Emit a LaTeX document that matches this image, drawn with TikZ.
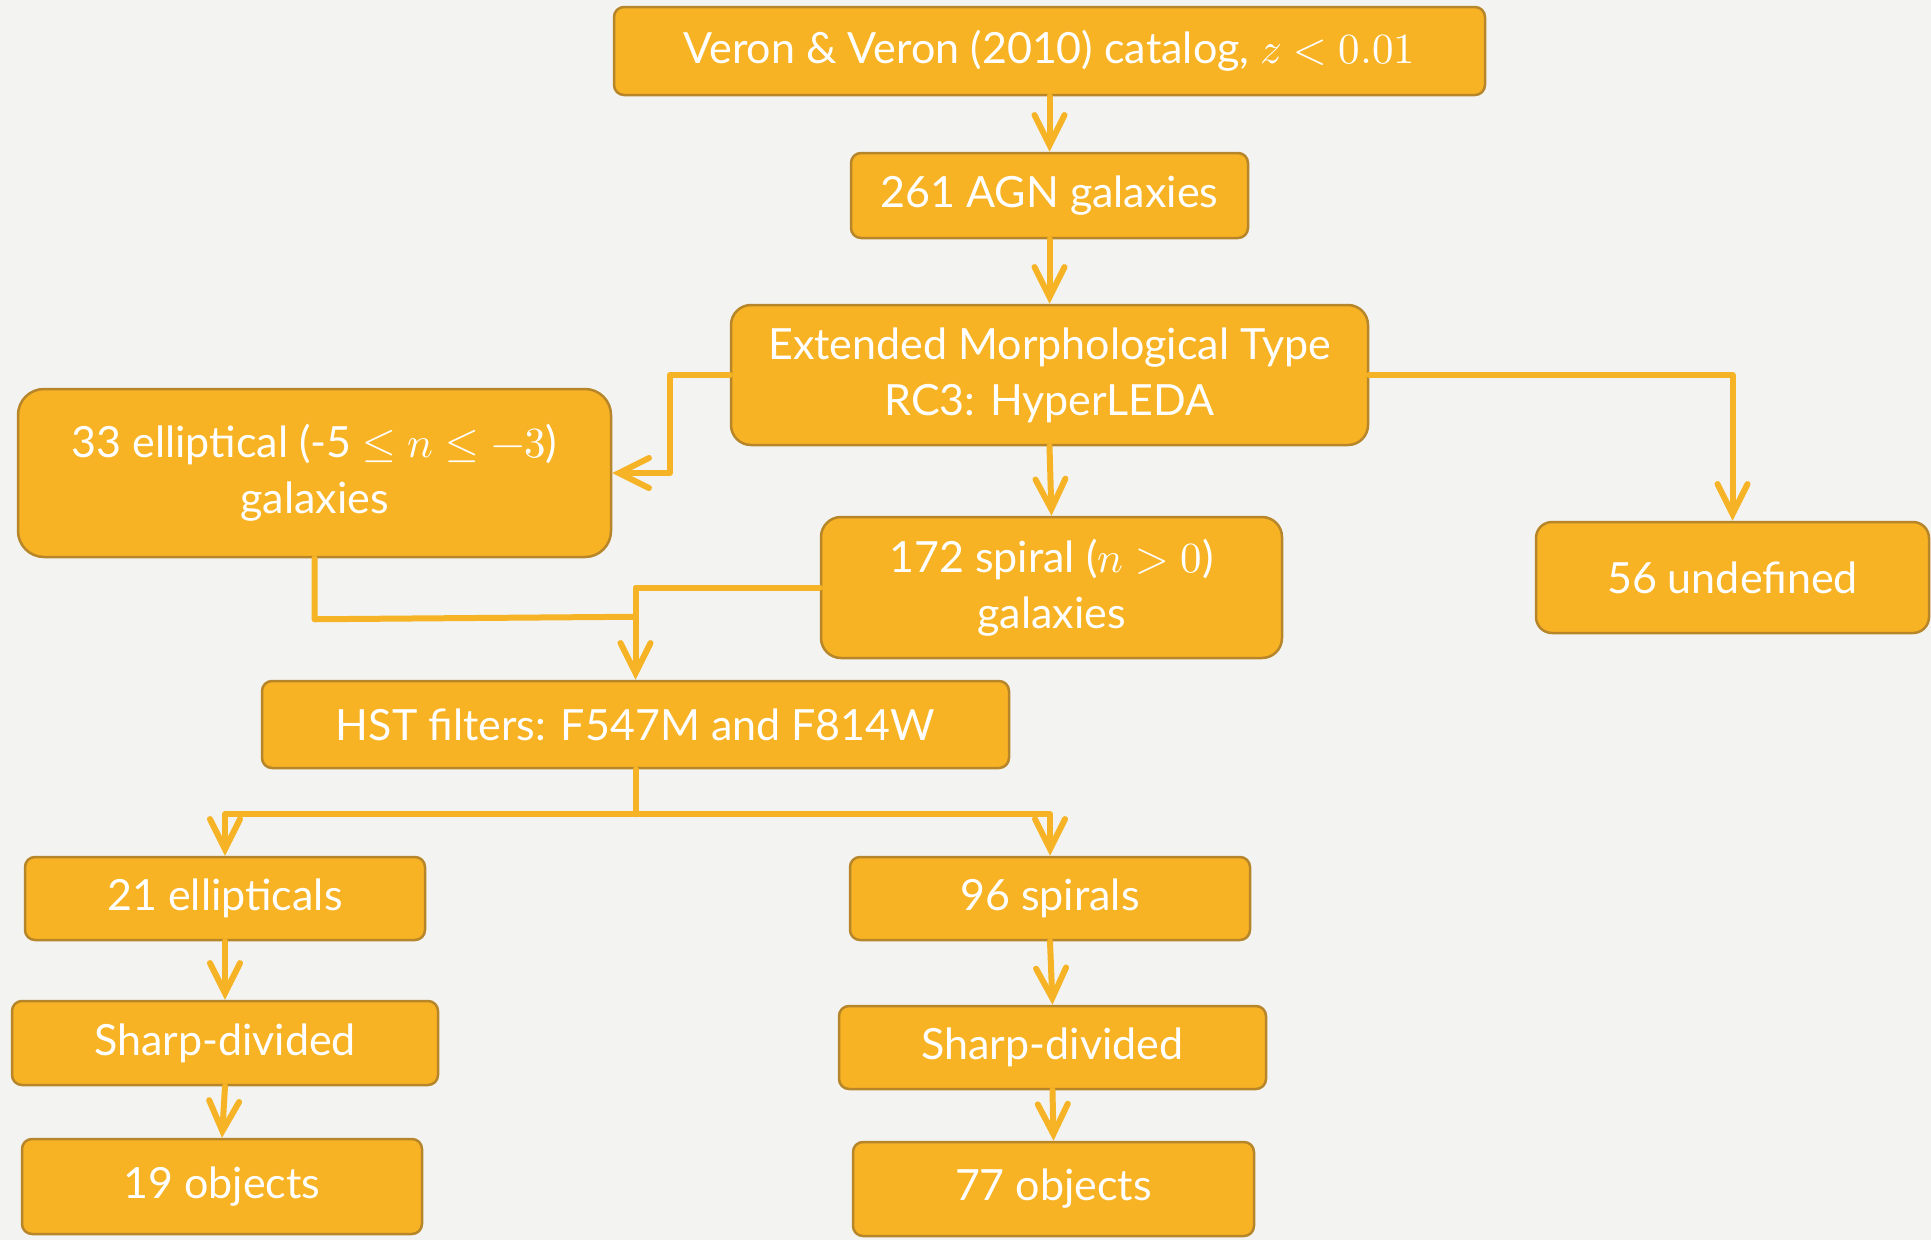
\documentclass[tikz,border=0pt]{standalone}
\usepackage{fontspec}
\usepackage{unicode-math}
\setmainfont{Lato}
\setmathfont{Latin Modern Math}
\usetikzlibrary{arrows.meta,calc}
\definecolor{bg}{HTML}{F3F3F1}
\definecolor{boxfill}{HTML}{F7B324}
\definecolor{boxedge}{HTML}{B8862A}
\definecolor{linec}{HTML}{F6B325}
\begin{document}
\begin{tikzpicture}[x=1pt,y=-1pt,
  box/.style={draw=boxedge, line width=2.5pt, fill=boxfill, text=white, align=center,
    inner sep=0pt, rounded corners=10pt, font=\fontsize{43}{56}\selectfont},
  arr/.style={draw=linec, line width=6pt, line cap=round, line join=round,
    -{Straight Barb[length=30pt,width=30pt,line cap=round]}},
  seg/.style={draw=linec, line width=6pt, line cap=round, line join=round}]
\fill[bg] (0,0) rectangle (1931,1240);
\useasboundingbox (0,0) rectangle (1931,1240);
\node[box, minimum width=871pt, minimum height=88pt] (top) at (1049.5,51) {Veron \& Veron (2010) catalog, $z<0.01$};
\node[box, minimum width=397pt, minimum height=85pt] (agn) at (1049.5,195.5) {261 AGN galaxies};
\node[box, minimum width=637pt, minimum height=140pt, rounded corners=20pt] (ext) at (1049.5,375) {Extended Morphological Type\\RC3: HyperLEDA};
\node[box, minimum width=593pt, minimum height=168pt, rounded corners=26pt] (ell) at (314.5,473) {33 elliptical (-5 $\leq n \leq -3$)\\galaxies};
\node[box, minimum width=461pt, minimum height=141pt, rounded corners=20pt] (spi) at (1051.5,587.5) {172 spiral ($n>0$)\\galaxies};
\node[box, minimum width=393pt, minimum height=111pt, rounded corners=16pt] (und) at (1732.5,577.5) {56 undefined};
\node[box, minimum width=747pt, minimum height=87pt] (hst) at (635.5,724.5) {HST filters: F547M and F814W};
\node[box, minimum width=400pt, minimum height=83pt] (e21) at (225,898.5) {21 ellipticals};
\node[box, minimum width=400pt, minimum height=83pt] (s96) at (1050,898.5) {96 spirals};
\node[box, minimum width=426pt, minimum height=84pt] (shl) at (225,1043) {Sharp-divided};
\node[box, minimum width=427pt, minimum height=83pt] (shr) at (1052.5,1047.5) {Sharp-divided};
\node[box, minimum width=400pt, minimum height=95pt] (o19) at (222,1186.5) {19 objects};
\node[box, minimum width=401pt, minimum height=94pt] (o77) at (1053.5,1189) {77 objects};
\draw[arr] (top.south) -- (agn.north);
\draw[arr] (agn.south) -- (ext.north);
\draw[arr] (ext.west) -- ++(-60,0) |- (ell.east);
\draw[arr] (ext.east) -| (und.north);
\draw[arr] (ext.south) -- (spi.north);
\draw[seg] (ell.south) -- ++(0,61) -- ($(hst.north)+(0,-63)$);
\draw[arr] (spi.west) -| (hst.north);
\draw[seg] (hst.south) -- ++(0,45) coordinate (hb);
\draw[arr] (hb) -| (e21.north);
\draw[arr] (hb) -| (s96.north);
\draw[arr] (e21.south) -- (shl.north);
\draw[arr] (shl.south) -- (o19.north);
\draw[arr] (s96.south) -- (shr.north);
\draw[arr] (shr.south) -- (o77.north);
\end{tikzpicture}
\end{document}
